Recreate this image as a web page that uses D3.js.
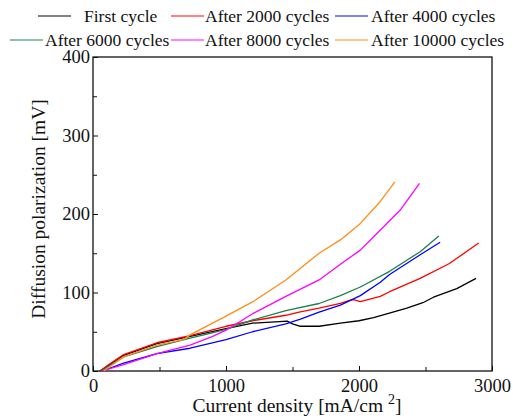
<!DOCTYPE html>
<html>
<head>
<meta charset="utf-8">
<script src="https://cdn.jsdelivr.net/npm/d3@7"></script>
<style>
  body { margin: 0; background: #fff; }
</style>
</head>
<body>
<div id="chart"></div>
<script>
// data: [current density mA/cm2, polarization mV]
var seriesNames = ["First cycle", "After 2000 cycles", "After 4000 cycles",
  "After 6000 cycles", "After 8000 cycles", "After 10000 cycles"];
var seriesColors = ["#000000", "#ff0000", "#0000ff", "#1a8050", "#ff00ff", "#ff8c1a"];

var firstCycle = [[50, 0], [100, 5], [230, 20], [480, 35], [730, 44], [1000, 54], [1200, 61],
  [1400, 63], [1460, 63.5], [1500, 60], [1560, 57], [1700, 57], [1860, 61], [2000, 64],
  [2110, 68], [2360, 80], [2480, 87], [2560, 94], [2735, 105], [2880, 118]];
var after2000 = [[55, 0], [100, 6], [230, 21], [480, 36], [730, 45], [1000, 57], [1200, 64],
  [1450, 71], [1550, 75], [1700, 80], [1860, 86], [1930, 90], [1960, 91], [2010, 88.5],
  [2160, 95], [2230, 101], [2460, 118], [2680, 137], [2900, 163]];
var after4000 = [[70, 0], [230, 10], [480, 22], [730, 29], [1000, 40], [1200, 50], [1450, 60],
  [1560, 66], [1700, 75], [1860, 84], [2010, 96], [2160, 113], [2230, 123], [2460, 148],
  [2610, 164]];
var after6000 = [[60, 0], [230, 18], [480, 31], [730, 42], [880, 48], [1000, 53], [1200, 65],
  [1450, 77], [1700, 86], [1860, 96], [2010, 107], [2230, 127], [2460, 152], [2600, 172]];
var after8000 = [[70, 0], [230, 8], [480, 22], [730, 33], [900, 44], [1000, 52], [1200, 73],
  [1450, 95], [1700, 116], [1860, 136], [2010, 154], [2110, 171], [2310, 205], [2455, 239]];
var after10000 = [[80, 0], [230, 18], [480, 33], [680, 40], [730, 46], [1000, 70], [1200, 88],
  [1450, 116], [1700, 150], [1860, 167], [2010, 188], [2160, 216], [2270, 241]];

var seriesData = [firstCycle, after2000, after4000, after6000, after8000, after10000];

var xTicks = [0, 1000, 2000, 3000];
var xMinorTicks = [500, 1500, 2500];
var yTicks = [0, 100, 200, 300, 400];
var yMinorTicks = [50, 150, 250, 350];

var serif = "'Liberation Serif', 'Times New Roman', serif";

// set the dimensions and margins of the graph
var width = 513, height = 420;
var margin = { top: 57, right: 21, bottom: 49, left: 93 };
var plotW = width - margin.left - margin.right,
  plotH = height - margin.top - margin.bottom;

var svg = d3.select("#chart").append("svg")
  .attr("width", width)
  .attr("height", height);

var g = svg.append("g")
  .attr("transform", "translate(" + margin.left + "," + margin.top + ")");

var x = d3.scaleLinear().domain([0, 3000]).range([0, plotW]);
var y = d3.scaleLinear().domain([0, 400]).range([plotH, 0]);

// axes with inward ticks
var xAxis = d3.axisBottom(x).tickValues(xTicks).tickSize(-5).tickPadding(8).tickFormat(d3.format("d"));
var yAxis = d3.axisLeft(y).tickValues(yTicks).tickSize(-5).tickPadding(3).tickFormat(d3.format("d"));

g.append("g")
  .attr("transform", "translate(0," + plotH + ")")
  .call(xAxis);

g.append("g")
  .attr("transform", "translate(0," + plotH + ")")
  .call(d3.axisBottom(x).tickValues(xMinorTicks).tickSize(-4).tickFormat(""));

g.append("g").call(yAxis);
g.append("g").call(d3.axisLeft(y).tickValues(yMinorTicks).tickSize(-4).tickFormat(""));

g.selectAll(".domain").remove();
g.selectAll(".tick line").attr("stroke", "#111").attr("stroke-width", 1);
g.selectAll(".tick text")
  .attr("font-family", serif)
  .attr("font-size", 18.5)
  .attr("fill", "#111");

// frame
g.append("rect")
  .attr("x", 0).attr("y", 0)
  .attr("width", plotW).attr("height", plotH)
  .attr("fill", "none")
  .attr("stroke", "#111")
  .attr("stroke-width", 1.3);

var line = d3.line()
  .x(function(d) { return x(d[0]); })
  .y(function(d) { return y(d[1]); });

g.selectAll(".series")
  .data(seriesData)
  .enter().append("path")
  .attr("class", "series")
  .attr("d", line)
  .attr("fill", "none")
  .attr("stroke", function(d, i) { return seriesColors[i]; })
  .attr("stroke-width", 1.3)
  .attr("stroke-linejoin", "round");

// axis titles
svg.append("text")
  .attr("transform", "translate(45," + (margin.top + plotH / 2 - 5) + ") rotate(-90)")
  .attr("text-anchor", "middle")
  .attr("font-family", serif)
  .attr("font-size", 19.5)
  .attr("fill", "#111")
  .text("Diffusion polarization [mV]");

var xt = svg.append("text")
  .attr("x", 297)
  .attr("y", 412)
  .attr("text-anchor", "middle")
  .attr("font-family", serif)
  .attr("font-size", 19.5)
  .attr("fill", "#111");
xt.append("tspan").text("Current density [mA/cm ");
xt.append("tspan").attr("dy", -8).attr("font-size", 14).text("2");
xt.append("tspan").attr("dy", 8).text("]");

// legend, two rows of three
var legendPos = [[38, 16], [171, 16], [335, 16], [10, 40], [171, 40], [335, 40]];
var textGap = [46, 34, 36, 35, 34, 36];

var legend = svg.selectAll(".legend")
  .data(seriesNames)
  .enter().append("g")
  .attr("class", "legend")
  .attr("transform", function(d, i) {
    return "translate(" + legendPos[i][0] + "," + legendPos[i][1] + ")";
  });

legend.append("line")
  .attr("x1", 0).attr("x2", 33)
  .attr("y1", 0).attr("y2", 0)
  .attr("stroke", function(d, i) { return seriesColors[i]; })
  .attr("stroke-opacity", 0.65)
  .attr("stroke-width", 1.3);

legend.append("text")
  .attr("x", function(d, i) { return textGap[i]; })
  .attr("y", 6)
  .attr("font-family", serif)
  .attr("font-size", 17.5)
  .attr("fill", "#111")
  .text(function(d) { return d; });
</script>
</body>
</html>
